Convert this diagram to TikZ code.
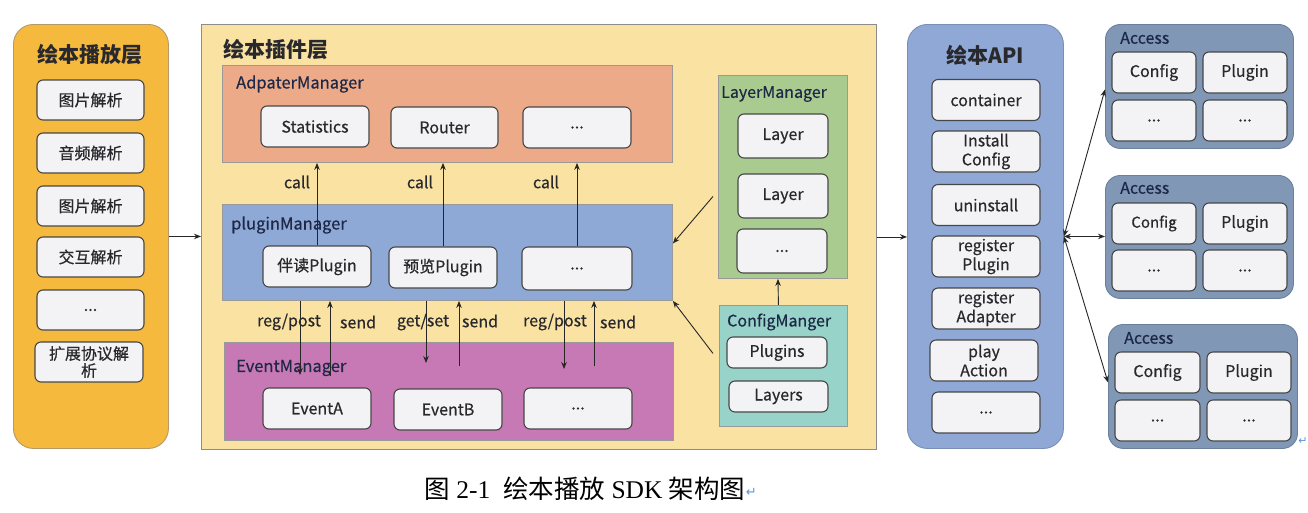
\documentclass[tikz,border=0pt]{standalone}
\usepackage{fontspec}
\setmainfont{Liberation Serif}
\newfontfamily\cjk[FakeBold=0.45]{Noto Sans CJK SC}
\newfontfamily\cjkc{Noto Sans CJK SC}
\newfontfamily\symf{DejaVu Sans}
\usetikzlibrary{arrows.meta}
\definecolor{orangeL}{RGB}{245,185,62}
\definecolor{orangeB}{RGB}{150,110,40}
\definecolor{yellowL}{RGB}{250,227,162}
\definecolor{salmon}{RGB}{236,170,136}
\definecolor{blueP}{RGB}{143,169,214}
\definecolor{pinkE}{RGB}{198,121,180}
\definecolor{greenL}{RGB}{170,203,143}
\definecolor{tealC}{RGB}{152,211,201}
\definecolor{blueA}{RGB}{143,168,213}
\definecolor{accB}{RGB}{128,151,182}
\definecolor{boxbg}{RGB}{243,243,246}
\definecolor{txt}{RGB}{40,40,45}
\definecolor{navy}{RGB}{30,40,70}
\definecolor{mark}{RGB}{90,150,215}
\begin{document}
\begin{tikzpicture}[x=1pt,y=-1pt,
  ibox/.style={draw=black!72, fill=boxbg, rounded corners=6pt, line width=1.1pt, inner sep=0pt,
    text=txt, font=\cjk\fontsize{16}{18}\selectfont, align=center},
  sz/.style 2 args={minimum width=#1, minimum height=#2},
  cont/.style={draw=black!40, line width=0.9pt, inner sep=0pt, anchor=north west},
  lbl/.style={font=\cjk\fontsize{16}{18}\selectfont, text=txt, inner sep=0pt},
  mlbl/.style={font=\cjk\fontsize{16.5}{18}\selectfont, text=navy, inner sep=0pt, anchor=west},
  ttl/.style={font=\cjkc\bfseries\fontsize{21}{24}\selectfont, text=txt, inner sep=0pt},
  arr/.style={-{Stealth[length=7pt,width=5.5pt]}, line width=0.9pt, draw=black!85},
  darr/.style={{Stealth[length=7pt,width=5.5pt]}-{Stealth[length=7pt,width=5.5pt]}, line width=0.9pt, draw=black!85}
]
\useasboundingbox[fill=white] (0,0) rectangle (1308,512);

% ---------- left play layer
\node[cont, draw=orangeB!70, fill=orangeL, rounded corners=20pt, sz={155}{424}] (play) at (13,24) {};
\node[ttl] (playT) at (90,55) {绘本播放层};
\node[ibox, sz={107}{40}] (lb1) at (90.5,100) {图片解析};
\node[ibox, sz={107}{40}] (lb2) at (90.5,153) {音频解析};
\node[ibox, sz={107}{40}] (lb3) at (90.5,206) {图片解析};
\node[ibox, sz={107}{40}] (lb4) at (90.5,257) {交互解析};
\node[ibox, sz={107}{40}] (lb5) at (90.5,310) {...};
\node[ibox, sz={108}{40}, font=\cjk\fontsize{16}{17}\selectfont] (lb6) at (89,362) {扩展协议解\\析};

% ---------- plugin layer
\node[cont, draw=black!45, fill=yellowL, sz={675}{425}] (pl) at (201,24) {};
\node[ttl, anchor=west] (plT) at (223,50) {绘本插件层};

\node[cont, fill=salmon, sz={450}{97}] (adp) at (222,65) {};
\node[mlbl] (adpT) at (236,84) {AdpaterManager};
\node[ibox, sz={108}{41}] (a1) at (315,126.5) {Statistics};
\node[ibox, sz={107}{41}] (a2) at (444.5,127.5) {Router};
\node[ibox, sz={108}{41}] (a3) at (577,127.5) {...};

\node[cont, fill=blueP, sz={450}{96}] (pm) at (222,204) {};
\node[mlbl] (pmT) at (231,225) {pluginManager};
\node[ibox, sz={108}{41}] (p1) at (317,266.5) {伴读Plugin};
\node[ibox, sz={108}{41}] (p2) at (443,267.5) {预览Plugin};
\node[ibox, sz={110}{43}] (p3) at (577,268.5) {...};

\node[cont, fill=pinkE, sz={449}{98}] (em) at (224,342) {};
\node[mlbl] (emT) at (236,368) {EventManager};
\node[ibox, sz={108}{41}] (e1) at (317,408.5) {EventA};
\node[ibox, sz={108}{41}] (e2) at (448,409.5) {EventB};
\node[ibox, sz={108}{41}] (e3) at (578,408.5) {...};

\node[cont, fill=greenL, sz={129}{203}] (lm) at (718,75) {};
\node[mlbl, font=\cjk\fontsize{16}{18}\selectfont] (lmT) at (721,94) {LayerManager};
\node[ibox, sz={90}{44}] (l1) at (783,136) {Layer};
\node[ibox, sz={90}{44}] (l2) at (783,196) {Layer};
\node[ibox, sz={90}{44}] (l3) at (782,251) {...};

\node[cont, fill=tealC, sz={128}{121}] (cm) at (719,305) {};
\node[mlbl, font=\cjk\fontsize{16}{18}\selectfont] (cmT) at (727,322) {ConfigManger};
\node[ibox, sz={100}{31}] (c1) at (777,352.5) {Plugins};
\node[ibox, sz={99}{31}] (c2) at (778.5,396.5) {Layers};

% call arrows
\draw[arr] (p1.north) -- (p1.north |- adp.south);
\draw[arr] (p2.north) -- (p2.north |- adp.south);
\draw[arr] (p3.north) -- (p3.north |- adp.south);
\node[lbl] (call1) at (297,182) {call};
\node[lbl] (call2) at (420,182) {call};
\node[lbl] (call3) at (546,182) {call};

% event arrows
\coordinate (d1) at (300,375);
\coordinate (u1) at (330,376);
\coordinate (d2) at (426,363);
\coordinate (u2) at (459,366);
\coordinate (d3) at (564,369);
\coordinate (u3) at (594,366);
\draw[arr] (d1 |- pm.south) -- (d1);
\draw[arr] (u1) -- (u1 |- pm.south);
\draw[arr] (d2 |- pm.south) -- (d2);
\draw[arr] (u2) -- (u2 |- pm.south);
\draw[arr] (d3 |- pm.south) -- (d3);
\draw[arr] (u3) -- (u3 |- pm.south);
\node[lbl] (rp1) at (289,322) {reg/post};
\node[lbl] (sd1) at (358,322) {send};
\node[lbl] (gs2) at (423,322) {get/set};
\node[lbl] (sd2) at (480,321) {send};
\node[lbl] (rp3) at (555,322) {reg/post};
\node[lbl] (sd3) at (618,322) {send};

% manager arrows
\draw[arr] ([xshift=-5pt, yshift=-19.5pt]lm.west) -- ([yshift=9pt]pm.east);
\draw[arr] ([xshift=-6pt, yshift=12.5pt]cm.west) -- (pm.south east);
\draw[arr] ([xshift=-5pt]cm.north) -- ([xshift=-5pt]lm.south);

% ---------- API
\node[cont, draw=blueA!85!black, fill=blueA, rounded corners=20pt, sz={156}{424}] (api) at (907,24) {};
\node[ttl] (apiT) at (985,55) {绘本API};
\node[ibox, sz={108}{41}] (b1) at (986,100) {container};
\node[ibox, sz={108}{41}, font=\cjk\fontsize{16}{19}\selectfont] (b2) at (986,151.5) {Install\\Config};
\node[ibox, sz={108}{41}] (b3) at (986,205) {uninstall};
\node[ibox, sz={108}{41}, font=\cjk\fontsize{16}{19}\selectfont] (b4) at (986,256.5) {register\\Plugin};
\node[ibox, sz={108}{41}, font=\cjk\fontsize{16}{19}\selectfont] (b5) at (986,308.5) {register\\Adapter};
\node[ibox, sz={108}{41}, font=\cjk\fontsize{16}{19}\selectfont] (b6) at (984,360.5) {play\\Action};
\node[ibox, sz={108}{41}] (b7) at (986,412.5) {...};

% ---------- Access
\node[cont, draw=accB!85!black, fill=accB, rounded corners=15pt, sz={188}{124}] (acc1) at (1105,24) {};
\node[lbl, anchor=west, text=navy] (acc1T) at (1120,38) {Access};
\node[ibox, sz={84}{41}] (x11) at (1154,72.5) {Config};
\node[ibox, sz={84}{41}] (x12) at (1245,72.5) {Plugin};
\node[ibox, sz={84}{41}] (x13) at (1154,120.5) {...};
\node[ibox, sz={84}{41}] (x14) at (1245,120.5) {...};

\node[cont, draw=accB!85!black, fill=accB, rounded corners=15pt, sz={188}{123}] (acc2) at (1105,175) {};
\node[lbl, anchor=west, text=navy] (acc2T) at (1120,188) {Access};
\node[ibox, sz={84}{41}, font=\cjk\fontsize{15}{18}\selectfont] (x21) at (1154,223.5) {Config};
\node[ibox, sz={84}{41}] (x22) at (1245,223.5) {Plugin};
\node[ibox, sz={84}{41}] (x23) at (1154,270.5) {...};
\node[ibox, sz={84}{41}] (x24) at (1245,270.5) {...};

\node[cont, draw=accB!85!black, fill=accB, rounded corners=15pt, sz={189}{124}] (acc3) at (1108,324) {};
\node[lbl, anchor=west, text=navy] (acc3T) at (1124,338) {Access};
\node[ibox, sz={85}{41}] (x31) at (1157.5,372.5) {Config};
\node[ibox, sz={84}{41}] (x32) at (1249,372.5) {Plugin};
\node[ibox, sz={85}{41}] (x33) at (1157.5,420.5) {...};
\node[ibox, sz={84}{41}] (x34) at (1249,420.5) {...};

% ---------- layer arrows
\draw[arr] (play.east) -- (play.east -| pl.west);
\draw[arr] (pl.east) -- (pl.east -| api.west);
\draw[darr] (api.east) -- ([yshift=-3pt]acc1.west);
\draw[darr] (api.east) -- (api.east -| acc2.west);
\draw[darr] (api.east) -- ([yshift=4pt]acc3.west);

% ---------- caption
\node[inner sep=0pt, font=\fontsize{25.5}{27}\selectfont, text=black] (cap) at (585,489)
  {{\cjkc 图} 2-1\enspace{\cjkc 绘本播放} SDK {\cjkc 架构图}};
\node[inner sep=0pt, anchor=west, font=\symf\fontsize{13}{14}\selectfont, text=mark] (capm) at ([yshift=-3pt]cap.east) {↵};
\node[inner sep=0pt, font=\symf\fontsize{11}{12}\selectfont, text=mark] (endm) at (1303,441) {↵};
\end{tikzpicture}
\end{document}
